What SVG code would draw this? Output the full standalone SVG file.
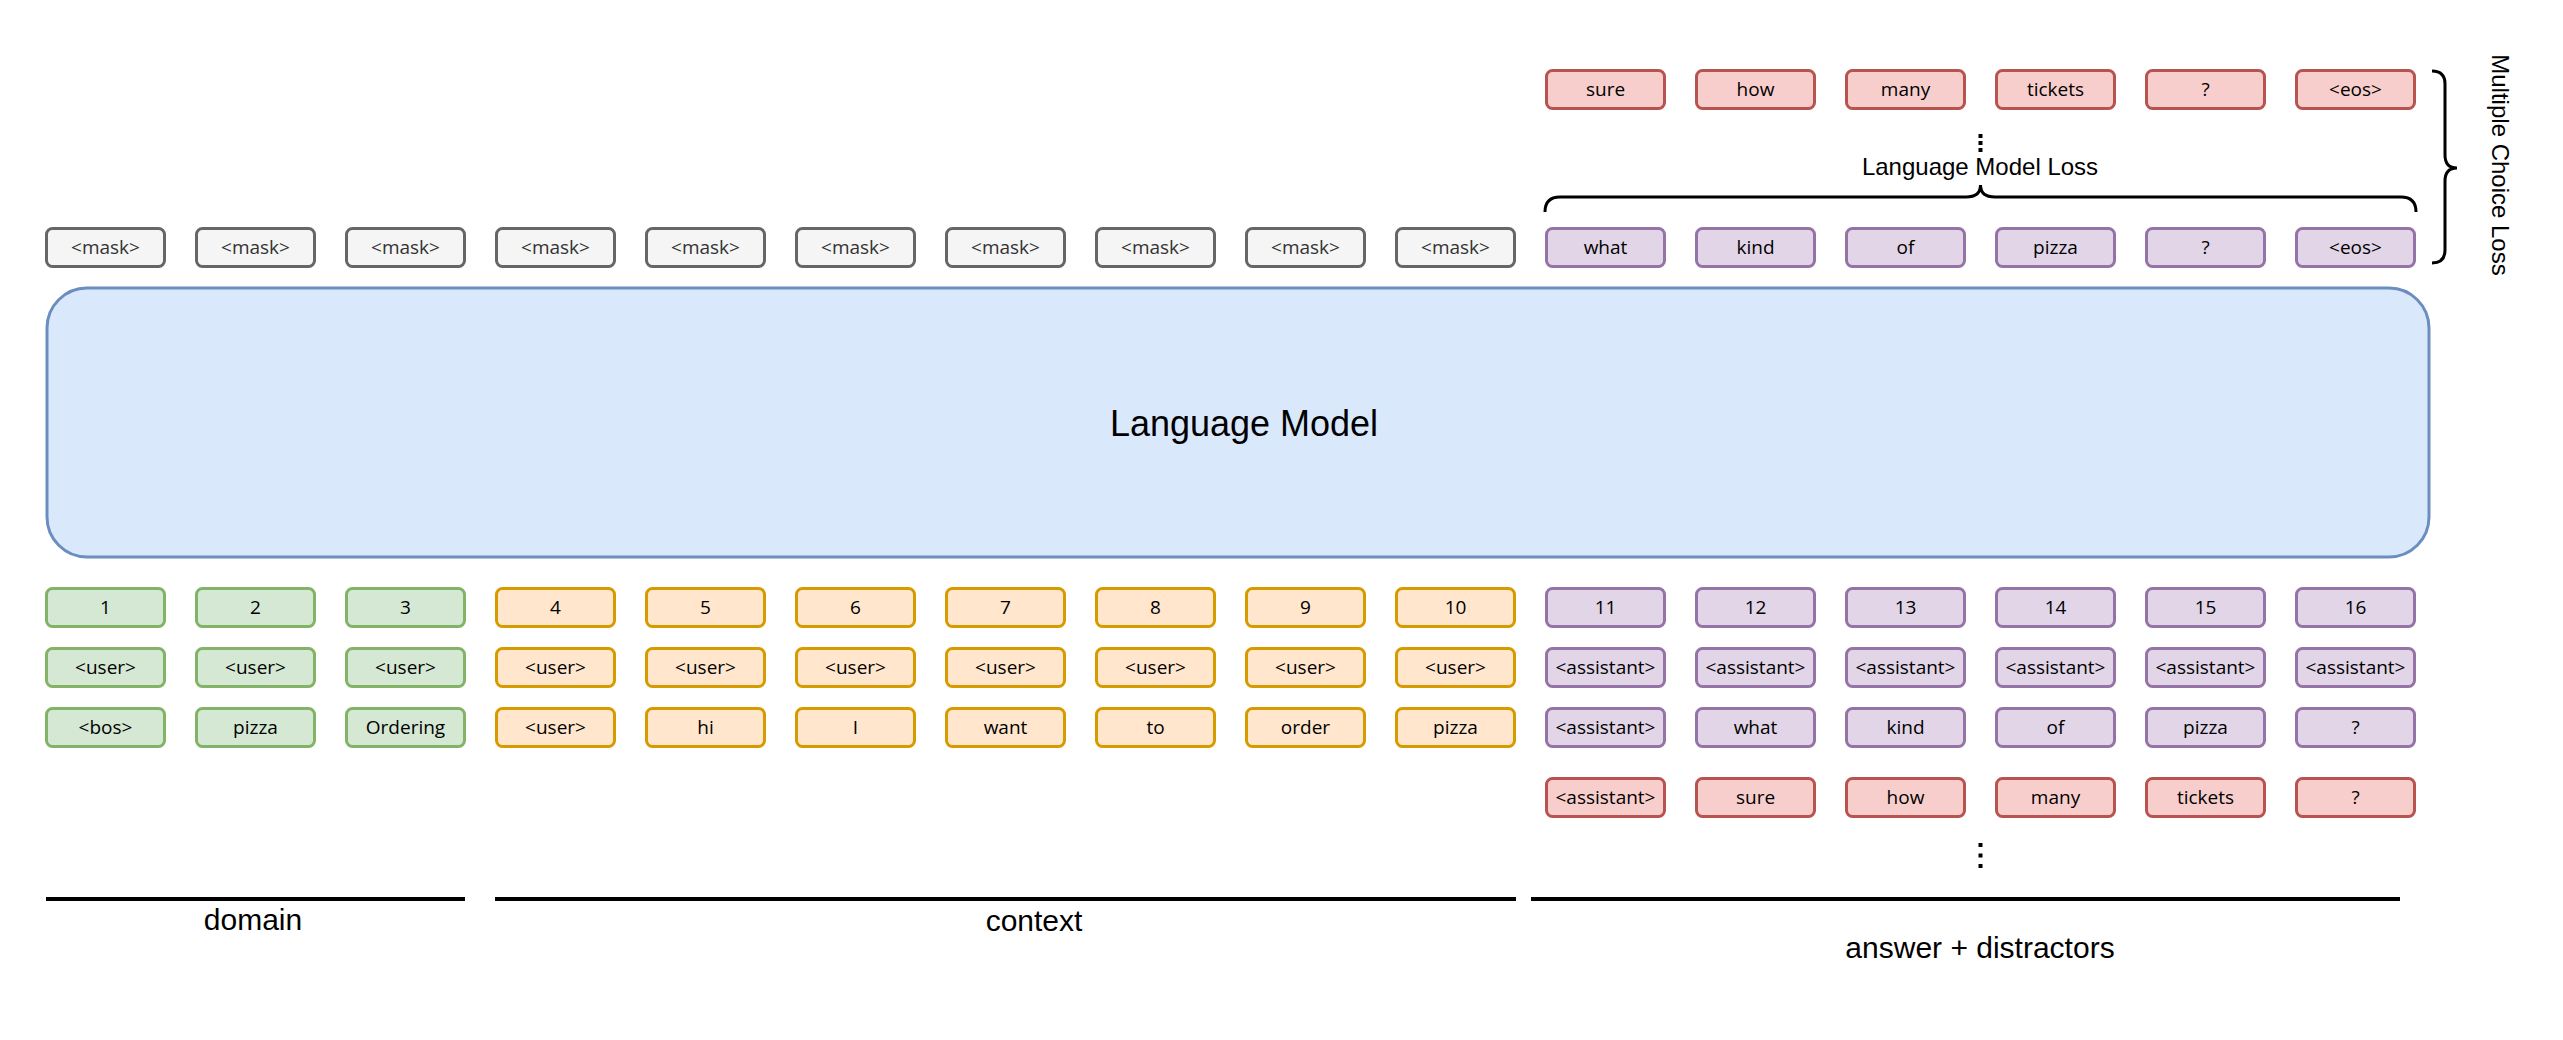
<svg xmlns="http://www.w3.org/2000/svg" width="2563" height="1040" viewBox="0 0 2563 1040">
<style>
.b rect{stroke-width:3}
.gray rect{fill:#f5f5f5;stroke:#666666}
.green rect{fill:#d5e8d4;stroke:#82b366}
.orange rect{fill:#ffe6cc;stroke:#d79b00}
.purple rect{fill:#e1d5e7;stroke:#9673a6}
.red rect{fill:#f8cecc;stroke:#b85450}
.b text{font-family:"Open Sans","Noto Sans",sans-serif;font-size:19px;text-anchor:middle;fill:#000}
.gray text{fill:#333333}
.lbl{font-family:"Liberation Sans",Arial,sans-serif;fill:#000;text-anchor:middle}
.line{stroke:#000;stroke-width:4;fill:none}
.brace{stroke:#000;stroke-width:3;fill:none}
</style>
<rect width="2563" height="1040" fill="#ffffff"/>

<g id="language-model">
<rect x="47" y="288" width="2382" height="269" rx="40" ry="40" fill="#dae8fc" stroke="#6c8ebf" stroke-width="3"/>
<text class="lbl" x="1244" y="436" font-size="36">Language Model</text>
</g>

<!-- top red row (distractor outputs) -->
<g id="out-red-10" class="b red"><rect x="1546.5" y="70.5" width="118" height="38" rx="6"/><text x="1605.5" y="95.5">sure</text></g>
<g id="out-red-11" class="b red"><rect x="1696.5" y="70.5" width="118" height="38" rx="6"/><text x="1755.5" y="95.5">how</text></g>
<g id="out-red-12" class="b red"><rect x="1846.5" y="70.5" width="118" height="38" rx="6"/><text x="1905.5" y="95.5">many</text></g>
<g id="out-red-13" class="b red"><rect x="1996.5" y="70.5" width="118" height="38" rx="6"/><text x="2055.5" y="95.5">tickets</text></g>
<g id="out-red-14" class="b red"><rect x="2146.5" y="70.5" width="118" height="38" rx="6"/><text x="2205.5" y="95.5">?</text></g>
<g id="out-red-15" class="b red"><rect x="2296.5" y="70.5" width="118" height="38" rx="6"/><text x="2355.5" y="95.5">&lt;eos&gt;</text></g>

<!-- output row: masks and answer -->
<g id="out-0" class="b gray"><rect x="46.5" y="228.5" width="118" height="38" rx="6"/><text x="105.5" y="253.5">&lt;mask&gt;</text></g>
<g id="out-1" class="b gray"><rect x="196.5" y="228.5" width="118" height="38" rx="6"/><text x="255.5" y="253.5">&lt;mask&gt;</text></g>
<g id="out-2" class="b gray"><rect x="346.5" y="228.5" width="118" height="38" rx="6"/><text x="405.5" y="253.5">&lt;mask&gt;</text></g>
<g id="out-3" class="b gray"><rect x="496.5" y="228.5" width="118" height="38" rx="6"/><text x="555.5" y="253.5">&lt;mask&gt;</text></g>
<g id="out-4" class="b gray"><rect x="646.5" y="228.5" width="118" height="38" rx="6"/><text x="705.5" y="253.5">&lt;mask&gt;</text></g>
<g id="out-5" class="b gray"><rect x="796.5" y="228.5" width="118" height="38" rx="6"/><text x="855.5" y="253.5">&lt;mask&gt;</text></g>
<g id="out-6" class="b gray"><rect x="946.5" y="228.5" width="118" height="38" rx="6"/><text x="1005.5" y="253.5">&lt;mask&gt;</text></g>
<g id="out-7" class="b gray"><rect x="1096.5" y="228.5" width="118" height="38" rx="6"/><text x="1155.5" y="253.5">&lt;mask&gt;</text></g>
<g id="out-8" class="b gray"><rect x="1246.5" y="228.5" width="118" height="38" rx="6"/><text x="1305.5" y="253.5">&lt;mask&gt;</text></g>
<g id="out-9" class="b gray"><rect x="1396.5" y="228.5" width="118" height="38" rx="6"/><text x="1455.5" y="253.5">&lt;mask&gt;</text></g>
<g id="out-10" class="b purple"><rect x="1546.5" y="228.5" width="118" height="38" rx="6"/><text x="1605.5" y="253.5">what</text></g>
<g id="out-11" class="b purple"><rect x="1696.5" y="228.5" width="118" height="38" rx="6"/><text x="1755.5" y="253.5">kind</text></g>
<g id="out-12" class="b purple"><rect x="1846.5" y="228.5" width="118" height="38" rx="6"/><text x="1905.5" y="253.5">of</text></g>
<g id="out-13" class="b purple"><rect x="1996.5" y="228.5" width="118" height="38" rx="6"/><text x="2055.5" y="253.5">pizza</text></g>
<g id="out-14" class="b purple"><rect x="2146.5" y="228.5" width="118" height="38" rx="6"/><text x="2205.5" y="253.5">?</text></g>
<g id="out-15" class="b purple"><rect x="2296.5" y="228.5" width="118" height="38" rx="6"/><text x="2355.5" y="253.5">&lt;eos&gt;</text></g>

<!-- position row -->
<g id="pos-1" class="b green"><rect x="46.5" y="588.5" width="118" height="38" rx="6"/><text x="105.5" y="613.5">1</text></g>
<g id="pos-2" class="b green"><rect x="196.5" y="588.5" width="118" height="38" rx="6"/><text x="255.5" y="613.5">2</text></g>
<g id="pos-3" class="b green"><rect x="346.5" y="588.5" width="118" height="38" rx="6"/><text x="405.5" y="613.5">3</text></g>
<g id="pos-4" class="b orange"><rect x="496.5" y="588.5" width="118" height="38" rx="6"/><text x="555.5" y="613.5">4</text></g>
<g id="pos-5" class="b orange"><rect x="646.5" y="588.5" width="118" height="38" rx="6"/><text x="705.5" y="613.5">5</text></g>
<g id="pos-6" class="b orange"><rect x="796.5" y="588.5" width="118" height="38" rx="6"/><text x="855.5" y="613.5">6</text></g>
<g id="pos-7" class="b orange"><rect x="946.5" y="588.5" width="118" height="38" rx="6"/><text x="1005.5" y="613.5">7</text></g>
<g id="pos-8" class="b orange"><rect x="1096.5" y="588.5" width="118" height="38" rx="6"/><text x="1155.5" y="613.5">8</text></g>
<g id="pos-9" class="b orange"><rect x="1246.5" y="588.5" width="118" height="38" rx="6"/><text x="1305.5" y="613.5">9</text></g>
<g id="pos-10" class="b orange"><rect x="1396.5" y="588.5" width="118" height="38" rx="6"/><text x="1455.5" y="613.5">10</text></g>
<g id="pos-11" class="b purple"><rect x="1546.5" y="588.5" width="118" height="38" rx="6"/><text x="1605.5" y="613.5">11</text></g>
<g id="pos-12" class="b purple"><rect x="1696.5" y="588.5" width="118" height="38" rx="6"/><text x="1755.5" y="613.5">12</text></g>
<g id="pos-13" class="b purple"><rect x="1846.5" y="588.5" width="118" height="38" rx="6"/><text x="1905.5" y="613.5">13</text></g>
<g id="pos-14" class="b purple"><rect x="1996.5" y="588.5" width="118" height="38" rx="6"/><text x="2055.5" y="613.5">14</text></g>
<g id="pos-15" class="b purple"><rect x="2146.5" y="588.5" width="118" height="38" rx="6"/><text x="2205.5" y="613.5">15</text></g>
<g id="pos-16" class="b purple"><rect x="2296.5" y="588.5" width="118" height="38" rx="6"/><text x="2355.5" y="613.5">16</text></g>

<!-- speaker row -->
<g id="spk-1" class="b green"><rect x="46.5" y="648.5" width="118" height="38" rx="6"/><text x="105.5" y="673.5">&lt;user&gt;</text></g>
<g id="spk-2" class="b green"><rect x="196.5" y="648.5" width="118" height="38" rx="6"/><text x="255.5" y="673.5">&lt;user&gt;</text></g>
<g id="spk-3" class="b green"><rect x="346.5" y="648.5" width="118" height="38" rx="6"/><text x="405.5" y="673.5">&lt;user&gt;</text></g>
<g id="spk-4" class="b orange"><rect x="496.5" y="648.5" width="118" height="38" rx="6"/><text x="555.5" y="673.5">&lt;user&gt;</text></g>
<g id="spk-5" class="b orange"><rect x="646.5" y="648.5" width="118" height="38" rx="6"/><text x="705.5" y="673.5">&lt;user&gt;</text></g>
<g id="spk-6" class="b orange"><rect x="796.5" y="648.5" width="118" height="38" rx="6"/><text x="855.5" y="673.5">&lt;user&gt;</text></g>
<g id="spk-7" class="b orange"><rect x="946.5" y="648.5" width="118" height="38" rx="6"/><text x="1005.5" y="673.5">&lt;user&gt;</text></g>
<g id="spk-8" class="b orange"><rect x="1096.5" y="648.5" width="118" height="38" rx="6"/><text x="1155.5" y="673.5">&lt;user&gt;</text></g>
<g id="spk-9" class="b orange"><rect x="1246.5" y="648.5" width="118" height="38" rx="6"/><text x="1305.5" y="673.5">&lt;user&gt;</text></g>
<g id="spk-10" class="b orange"><rect x="1396.5" y="648.5" width="118" height="38" rx="6"/><text x="1455.5" y="673.5">&lt;user&gt;</text></g>
<g id="spk-11" class="b purple"><rect x="1546.5" y="648.5" width="118" height="38" rx="6"/><text x="1605.5" y="673.5">&lt;assistant&gt;</text></g>
<g id="spk-12" class="b purple"><rect x="1696.5" y="648.5" width="118" height="38" rx="6"/><text x="1755.5" y="673.5">&lt;assistant&gt;</text></g>
<g id="spk-13" class="b purple"><rect x="1846.5" y="648.5" width="118" height="38" rx="6"/><text x="1905.5" y="673.5">&lt;assistant&gt;</text></g>
<g id="spk-14" class="b purple"><rect x="1996.5" y="648.5" width="118" height="38" rx="6"/><text x="2055.5" y="673.5">&lt;assistant&gt;</text></g>
<g id="spk-15" class="b purple"><rect x="2146.5" y="648.5" width="118" height="38" rx="6"/><text x="2205.5" y="673.5">&lt;assistant&gt;</text></g>
<g id="spk-16" class="b purple"><rect x="2296.5" y="648.5" width="118" height="38" rx="6"/><text x="2355.5" y="673.5">&lt;assistant&gt;</text></g>

<!-- token row -->
<g id="tok-1" class="b green"><rect x="46.5" y="708.5" width="118" height="38" rx="6"/><text x="105.5" y="733.5">&lt;bos&gt;</text></g>
<g id="tok-2" class="b green"><rect x="196.5" y="708.5" width="118" height="38" rx="6"/><text x="255.5" y="733.5">pizza</text></g>
<g id="tok-3" class="b green"><rect x="346.5" y="708.5" width="118" height="38" rx="6"/><text x="405.5" y="733.5">Ordering</text></g>
<g id="tok-4" class="b orange"><rect x="496.5" y="708.5" width="118" height="38" rx="6"/><text x="555.5" y="733.5">&lt;user&gt;</text></g>
<g id="tok-5" class="b orange"><rect x="646.5" y="708.5" width="118" height="38" rx="6"/><text x="705.5" y="733.5">hi</text></g>
<g id="tok-6" class="b orange"><rect x="796.5" y="708.5" width="118" height="38" rx="6"/><text x="855.5" y="733.5">I</text></g>
<g id="tok-7" class="b orange"><rect x="946.5" y="708.5" width="118" height="38" rx="6"/><text x="1005.5" y="733.5">want</text></g>
<g id="tok-8" class="b orange"><rect x="1096.5" y="708.5" width="118" height="38" rx="6"/><text x="1155.5" y="733.5">to</text></g>
<g id="tok-9" class="b orange"><rect x="1246.5" y="708.5" width="118" height="38" rx="6"/><text x="1305.5" y="733.5">order</text></g>
<g id="tok-10" class="b orange"><rect x="1396.5" y="708.5" width="118" height="38" rx="6"/><text x="1455.5" y="733.5">pizza</text></g>
<g id="tok-11" class="b purple"><rect x="1546.5" y="708.5" width="118" height="38" rx="6"/><text x="1605.5" y="733.5">&lt;assistant&gt;</text></g>
<g id="tok-12" class="b purple"><rect x="1696.5" y="708.5" width="118" height="38" rx="6"/><text x="1755.5" y="733.5">what</text></g>
<g id="tok-13" class="b purple"><rect x="1846.5" y="708.5" width="118" height="38" rx="6"/><text x="1905.5" y="733.5">kind</text></g>
<g id="tok-14" class="b purple"><rect x="1996.5" y="708.5" width="118" height="38" rx="6"/><text x="2055.5" y="733.5">of</text></g>
<g id="tok-15" class="b purple"><rect x="2146.5" y="708.5" width="118" height="38" rx="6"/><text x="2205.5" y="733.5">pizza</text></g>
<g id="tok-16" class="b purple"><rect x="2296.5" y="708.5" width="118" height="38" rx="6"/><text x="2355.5" y="733.5">?</text></g>

<!-- distractor row -->
<g id="dis-11" class="b red"><rect x="1546.5" y="778.5" width="118" height="38" rx="6"/><text x="1605.5" y="803.5">&lt;assistant&gt;</text></g>
<g id="dis-12" class="b red"><rect x="1696.5" y="778.5" width="118" height="38" rx="6"/><text x="1755.5" y="803.5">sure</text></g>
<g id="dis-13" class="b red"><rect x="1846.5" y="778.5" width="118" height="38" rx="6"/><text x="1905.5" y="803.5">how</text></g>
<g id="dis-14" class="b red"><rect x="1996.5" y="778.5" width="118" height="38" rx="6"/><text x="2055.5" y="803.5">many</text></g>
<g id="dis-15" class="b red"><rect x="2146.5" y="778.5" width="118" height="38" rx="6"/><text x="2205.5" y="803.5">tickets</text></g>
<g id="dis-16" class="b red"><rect x="2296.5" y="778.5" width="118" height="38" rx="6"/><text x="2355.5" y="803.5">?</text></g>

<g id="connectors">
<path class="brace" d="M1545 212 Q1545 197 1560 197 L1966 197 Q1980.5 197 1980.5 185 Q1980.5 197 1995 197 L2401 197 Q2416 197 2416 212"/>
<path class="brace" d="M2432 71 Q2445 71 2445 84 L2445 155 Q2445 168 2457 168 Q2445 168 2445 181 L2445 250 Q2445 263 2432 263"/>
<line class="line" x1="46" y1="899" x2="465" y2="899"/>
<line class="line" x1="495" y1="899" x2="1516" y2="899"/>
<line class="line" x1="1531" y1="899" x2="2400" y2="899"/>
</g>

<g id="dots-top" fill="#000">
<rect x="1978.5" y="134" width="4" height="4"/>
<rect x="1978.5" y="141" width="4" height="4"/>
<rect x="1978.5" y="148" width="4" height="4"/>
</g>
<g id="dots-bottom" fill="#000">
<rect x="1978.5" y="843" width="4" height="4"/>
<rect x="1978.5" y="853.5" width="4" height="4"/>
<rect x="1978.5" y="864" width="4" height="4"/>
</g>

<g id="labels">
<text class="lbl" x="1980" y="175" font-size="24">Language Model Loss</text>
<text class="lbl" font-size="24" transform="translate(2492 165) rotate(90)">Multiple Choice Loss</text>
<text class="lbl" x="253" y="930" font-size="30">domain</text>
<text class="lbl" x="1034" y="931" font-size="30">context</text>
<text class="lbl" x="1980" y="958" font-size="30">answer + distractors</text>
</g>
</svg>
